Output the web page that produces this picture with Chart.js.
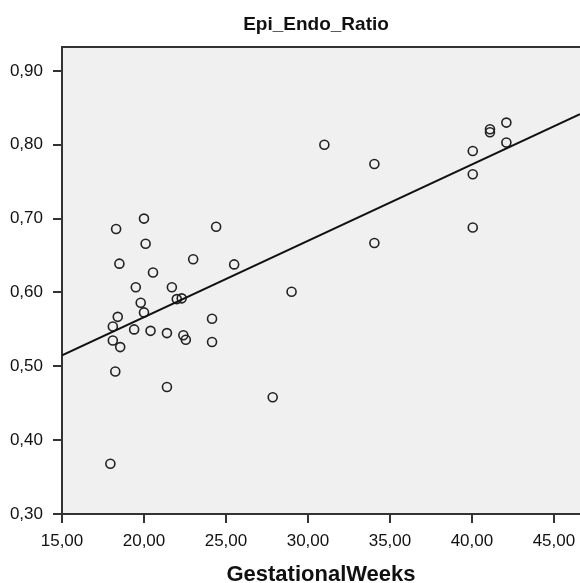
<!DOCTYPE html>
<html>
<head>
<meta charset="utf-8">
<script src="https://cdn.jsdelivr.net/npm/chart.js"></script>
<style>
  html, body { margin: 0; padding: 0; background: #ffffff; }
  #chart { display: block; }
</style>
</head>
<body>
<canvas id="chart" width="580" height="583"></canvas>
<script>
// Scatter points
const gestationalWeeks = [
  18.3, 20.0, 20.1, 24.4, 18.5, 23.0, 25.5, 20.55, 19.5, 21.7,
  22.0, 22.3, 29.0, 19.8, 20.0, 18.4, 24.15, 18.1, 19.4, 20.4,
  21.4, 22.4, 22.55, 18.1, 24.15, 18.55, 18.25, 21.4, 27.85, 17.95,
  31.0, 34.05, 34.05, 40.05, 40.05, 40.05, 41.1, 41.1, 42.1, 42.1
];
const epiEndoRatio = [
  0.686, 0.700, 0.666, 0.689, 0.639, 0.645, 0.638, 0.627, 0.607, 0.607,
  0.591, 0.592, 0.601, 0.586, 0.573, 0.567, 0.5645, 0.554, 0.550, 0.548,
  0.545, 0.542, 0.536, 0.535, 0.533, 0.526, 0.493, 0.472, 0.458, 0.368,
  0.800, 0.774, 0.667, 0.7915, 0.760, 0.688, 0.821, 0.817, 0.830, 0.803
];

// Fit line endpoints (left edge of the plot to the right edge)
const fitLineX = [15.0, 46.59];
const fitLineY = [0.515, 0.8415];

// Axis ticks
const xTickValues = [15, 20, 25, 30, 35, 40, 45];
const yTickValues = [0.30, 0.40, 0.50, 0.60, 0.70, 0.80, 0.90];

const FONT = "'Liberation Sans', Arial, sans-serif";

const plotFrame = {
  id: 'plotFrame',
  beforeDraw(chart) {
    const { ctx, chartArea: a } = chart;
    ctx.save();
    ctx.fillStyle = '#f0f0f0';
    ctx.fillRect(a.left, a.top, a.right - a.left, a.bottom - a.top);
    ctx.strokeStyle = '#333333';
    ctx.lineWidth = 2;
    ctx.beginPath();
    ctx.moveTo(a.left, a.top);
    ctx.lineTo(a.right, a.top);
    ctx.stroke();
    ctx.restore();
  },
  afterDraw(chart) {
    const ctx = chart.ctx;
    ctx.save();
    ctx.fillStyle = '#111111';
    ctx.font = 'bold 19px ' + FONT;
    ctx.textAlign = 'center';
    ctx.textBaseline = 'alphabetic';
    ctx.fillText('Epi_Endo_Ratio', 316, 30);
    ctx.restore();
  }
};

const commaFmt = v => Number(v).toFixed(2).replace('.', ',');

new Chart(document.getElementById('chart'), {
  type: 'scatter',
  data: {
    datasets: [
      {
        label: 'Epi_Endo_Ratio',
        data: gestationalWeeks.map((w, i) => ({ x: w, y: epiEndoRatio[i] })),
        pointRadius: 4.5,
        pointBorderWidth: 1.6,
        pointBorderColor: '#222222',
        pointBackgroundColor: 'rgba(0,0,0,0)',
        showLine: false,
        order: 2
      },
      {
        type: 'line',
        label: 'Fit',
        data: fitLineX.map((x, i) => ({ x: x, y: fitLineY[i] })),
        borderColor: '#111111',
        borderWidth: 2,
        pointRadius: 0,
        fill: false,
        order: 1
      }
    ]
  },
  options: {
    responsive: false,
    animation: false,
    // the plot box runs off the right edge of the picture
    layout: { autoPadding: false, padding: { top: 47, left: 0, right: 0, bottom: 0 } },
    plugins: {
      legend: { display: false },
      tooltip: { enabled: false },
      title: { display: false }
    },
    scales: {
      x: {
        type: 'linear',
        min: 15,
        max: 46.59,
        afterBuildTicks: s => { s.ticks = xTickValues.map(v => ({ value: v })); },
        afterFit: s => { s.height = 69; s.paddingLeft = 0; s.paddingRight = 0; },
        border: { display: true, color: '#333333', width: 2 },
        grid: { drawOnChartArea: false, drawTicks: true, tickLength: 9, color: '#333333', lineWidth: 2 },
        ticks: {
          padding: 8,
          color: '#111111',
          font: { family: FONT, size: 17 },
          maxRotation: 0,
          callback: v => commaFmt(v)
        },
        title: {
          display: true,
          text: 'GestationalWeeks',
          color: '#111111',
          font: { family: FONT, size: 22, weight: 'bold', lineHeight: 0.7 },
          padding: 0
        }
      },
      y: {
        type: 'linear',
        min: 0.30,
        max: 0.9324,
        afterBuildTicks: s => { s.ticks = yTickValues.map(v => ({ value: v })); },
        afterFit: s => { s.width = 62; },
        border: { display: true, color: '#333333', width: 2 },
        grid: { drawOnChartArea: false, drawTicks: true, tickLength: 9, color: '#333333', lineWidth: 2 },
        ticks: {
          padding: 10,
          color: '#111111',
          font: { family: FONT, size: 17 },
          callback: v => commaFmt(v)
        }
      }
    }
  },
  plugins: [plotFrame]
});
</script>
</body>
</html>
